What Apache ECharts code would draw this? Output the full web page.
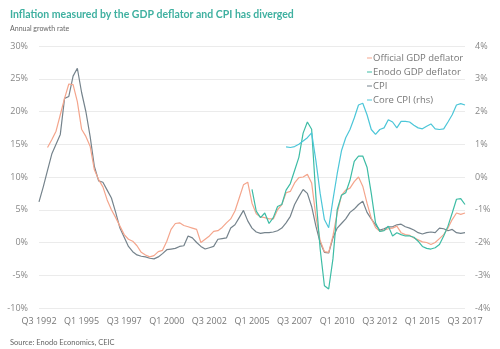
<!DOCTYPE html>
<html>
<head>
<meta charset="utf-8">
<script src="https://cdn.jsdelivr.net/npm/echarts@6/dist/echarts.min.js"></script>
<style>
html,body{margin:0;padding:0;background:#fff;}
#c{width:500px;height:349px;}
</style>
</head>
<body>
<div id="c"></div>
<script>
// Quarterly categories Q3 1992 .. Q3 2017
var startYear = 1992, startQ = 3, nQuarters = 101;
var categories = [];
for (var k = 0; k < nQuarters; k++) {
  var q0 = startQ - 1 + k;
  categories.push('Q' + (q0 % 4 + 1) + ' ' + (startYear + Math.floor(q0 / 4)));
}

// Official GDP deflator (% y/y), starts Q1 1993
var officialGDP = [null, null,
  14.5, 15.7, 17.0, 19.5, 22.0, 24.2, 24.1, 21.5, 17.3, 16.2,
  14.7, 11.1, 9.6, 8.5, 6.5, 5.0, 3.8, 2.5, 1.2, 0.5,
  0.2, -0.5, -1.5, -1.9, -2.2, -2.0, -1.4, -1.2, 0.2, 2.0,
  2.9, 3.0, 2.6, 2.4, 2.2, 2.0, 0.0, 0.5, 1.0, 1.7,
  1.8, 2.3, 3.0, 3.6, 4.8, 6.8, 8.8, 9.2, 6.0, 4.4,
  3.9, 3.8, 3.6, 3.6, 5.0, 5.8, 7.6, 7.8, 9.1, 9.9,
  10.0, 10.4, 9.1, 4.0, 0.3, -1.4, -1.5, 1.0, 4.5, 7.2,
  8.0, 8.3, 9.3, 10.0, 8.6, 6.0, 3.7, 2.3, 1.7, 1.9,
  2.1, 2.2, 2.5, 1.5, 1.2, 1.1, 0.7, 0.4, 0.1, 0.0,
  -0.3, 0.0, 0.6, 1.2, 2.2, 3.5, 4.5, 4.3, 4.5];

// Enodo GDP deflator (% y/y), starts Q3 2005
var enodoGDP = [];
for (var a = 0; a < 50; a++) enodoGDP.push(null);
enodoGDP = enodoGDP.concat([
  8.1, 4.8, 3.8, 4.5, 2.9, 3.8, 5.5, 5.8, 8.0, 9.0,
  11.0, 13.0, 16.7, 18.4, 17.3, 7.0, -1.0, -6.6, -7.1, -2.5,
  5.0, 7.2, 7.6, 9.5, 12.4, 13.2, 13.2, 11.5, 7.5, 3.0,
  1.7, 1.8, 2.5, 1.0, 1.5, 1.2, 1.0, 1.0, 0.8, 0.2,
  -0.6, -0.9, -1.0, -0.8, -0.3, 1.0, 2.5, 4.5, 6.6, 6.7,
  5.8]);

// CPI (% y/y), Q3 1992 .. Q3 2017
var cpi = [
  6.2, 8.5, 11.0, 13.5, 15.0, 16.5, 22.0, 22.3, 25.4, 26.6,
  22.9, 20.0, 16.2, 11.6, 9.4, 9.2, 8.0, 6.8, 4.6, 2.2,
  0.8, -0.6, -1.4, -1.9, -2.1, -2.2, -2.4, -2.5, -2.2, -1.7,
  -1.1, -1.0, -0.9, -0.6, -0.5, 1.0, 0.7, 0.0, -0.6, -1.0,
  -0.8, -0.6, 0.5, 0.6, 0.7, 2.2, 2.7, 3.8, 4.9, 3.3,
  2.2, 1.6, 1.4, 1.5, 1.5, 1.6, 1.8, 2.2, 3.0, 4.0,
  5.8, 7.0, 8.1, 7.5, 5.5, 2.5, 0.0, -1.5, -1.6, 0.7,
  2.2, 2.9, 3.6, 4.6, 5.1, 5.8, 6.3, 4.6, 3.6, 2.7,
  1.9, 2.1, 2.4, 2.4, 2.7, 2.8, 2.4, 2.2, 1.9, 1.5,
  1.3, 1.5, 1.6, 1.5, 2.2, 2.1, 1.8, 2.0, 1.5, 1.4,
  1.5];

// Core CPI (% y/y, right axis), starts Q3 2007
var coreCPI = [];
for (var b = 0; b < 58; b++) coreCPI.push(null);
coreCPI = coreCPI.concat([
  0.92, 0.90, 0.93, 1.00, 1.10, 1.20, 1.35, 0.50, -0.50, -1.30,
  -1.55, -0.70, 0.10, 0.80, 1.20, 1.45, 1.80, 2.20, 2.25, 1.90,
  1.45, 1.30, 1.45, 1.50, 1.75, 1.68, 1.50, 1.70, 1.70, 1.68,
  1.58, 1.50, 1.47, 1.55, 1.62, 1.47, 1.45, 1.47, 1.68, 1.90,
  2.20, 2.24, 2.20]);

var leftTicks = [-10, 30, 5];   // min, max, interval
var rightTicks = [-4, 4, 1];

var chart = echarts.init(document.getElementById('c'), null, {renderer: 'canvas'});
var axisFont = '"Open Sans", "Noto Sans", sans-serif';
chart.setOption({
  backgroundColor: '#ffffff',
  animation: false,
  title: [
    {text: 'Inflation measured by the GDP deflator and CPI has diverged', left: 5, top: 4,
     textStyle: {fontFamily: 'Lato, "Open Sans", sans-serif', fontWeight: 'bold', fontSize: 10.5, color: '#3fb0a0'}},
    {text: 'Annual growth rate', left: 5, top: 20,
     textStyle: {fontFamily: 'Lato, "Open Sans", sans-serif', fontWeight: 'normal', fontSize: 7, color: '#666'}},
    {text: 'Source: Enodo Economics, CEIC', left: 5, top: 334,
     textStyle: {fontFamily: 'Lato, "Open Sans", sans-serif', fontWeight: 'normal', fontSize: 7.5, color: '#666'}}
  ],
  legend: {
    orient: 'vertical', left: 362, top: 48, itemGap: 4,
    icon: 'rect', itemWidth: 5, itemHeight: 1,
    textStyle: {fontFamily: axisFont, fontSize: 9.5, color: '#777', padding: [0, 0, 0, -4]},
    data: ['Official GDP deflator', 'Enodo GDP deflator', 'CPI', 'Core CPI (rhs)']
  },
  grid: {left: 39, right: 35, top: 46, bottom: 41},
  xAxis: {
    type: 'category', data: categories, boundaryGap: false,
    axisLine: {show: false}, axisTick: {show: false},
    axisLabel: {interval: 9, color: '#777', fontFamily: axisFont, fontSize: 9, margin: 9},
    splitLine: {show: false}
  },
  yAxis: [
    {type: 'value', min: leftTicks[0], max: leftTicks[1], interval: leftTicks[2],
     axisLine: {show: false}, axisTick: {show: false},
     axisLabel: {formatter: '{value}%', color: '#888', fontFamily: axisFont, fontSize: 9, margin: 11},
     splitLine: {lineStyle: {color: '#ebebeb', width: 1}}},
    {type: 'value', min: rightTicks[0], max: rightTicks[1], interval: rightTicks[2],
     axisLine: {show: false}, axisTick: {show: false},
     axisLabel: {formatter: '{value}%', color: '#888', fontFamily: axisFont, fontSize: 9, margin: 10},
     splitLine: {show: false}}
  ],
  series: [
    {name: 'Official GDP deflator', type: 'line', data: officialGDP, yAxisIndex: 0,
     showSymbol: false, symbol: 'none', lineStyle: {width: 1.2, color: '#f4a58c'}, itemStyle: {color: '#f4a58c'}, z: 3},
    {name: 'Enodo GDP deflator', type: 'line', data: enodoGDP, yAxisIndex: 0,
     showSymbol: false, symbol: 'none', lineStyle: {width: 1.2, color: '#3dbca5'}, itemStyle: {color: '#3dbca5'}, z: 4},
    {name: 'CPI', type: 'line', data: cpi, yAxisIndex: 0,
     showSymbol: false, symbol: 'none', lineStyle: {width: 1.2, color: '#75838c'}, itemStyle: {color: '#75838c'}, z: 2},
    {name: 'Core CPI (rhs)', type: 'line', data: coreCPI, yAxisIndex: 1,
     showSymbol: false, symbol: 'none', lineStyle: {width: 1.2, color: '#4cc6d8'}, itemStyle: {color: '#4cc6d8'}, z: 5}
  ]
});
</script>
</body>
</html>
